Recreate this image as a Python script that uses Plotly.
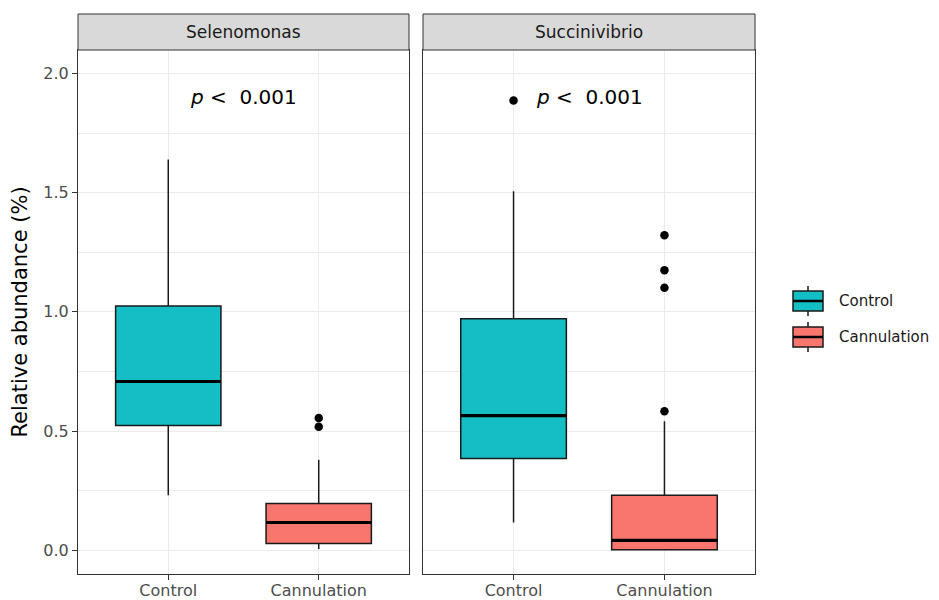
import plotly.graph_objects as go

# ---------------- data ----------------
panels = ["Selenomonas", "Succinivibrio"]
groups = ["Control", "Cannulation"]
group_colors = ["#13BEC4", "#F8766D"]

# box statistics per panel -> per group
lower_fence = [[0.231, 0.006], [0.117, 0.000]]
q1 = [[0.524, 0.029], [0.385, 0.003]]
median = [[0.708, 0.117], [0.565, 0.042]]
q3 = [[1.025, 0.197], [0.971, 0.231]]
upper_fence = [[1.639, 0.380], [1.506, 0.541]]
outliers = [
    [[], [0.518, 0.555]],
    [[1.886], [0.583, 1.101, 1.175, 1.321]],
]
p_text = ["< 0.001", "< 0.001"]
p_pos = [1.5, 1.9]  # (x position between groups, y value)

y_ticks = [0.0, 0.5, 1.0, 1.5, 2.0]
y_tick_labels = ["0.0", "0.5", "1.0", "1.5", "2.0"]
y_minor = [0.25, 0.75, 1.25, 1.75]
y_range = [-0.099, 2.098]
x_range = [0.4, 2.6]

# ---------------- style ----------------
FONT = "DejaVu Sans"
OFF = 8                      # page body margin of the browser
W, H = 939 - OFF, 600 - OFF
ML, MR, MT, MB = 78 - OFF, 184, 50 - OFF, 26
PW = W - ML - MR
PH = H - MT - MB
domains = [[0.0, 331 / PW], [(423 - 78) / PW, 1.0]]
strip_h = 36 / PH
box_w = 0.7
grid_c = "#EBEBEB"
border_c = "#333333"


def px_x(px):
    """screen pixel x -> paper coordinate"""
    return (px - OFF - ML) / PW


def px_y(py):
    """screen pixel y -> paper coordinate"""
    return (OFF + H - MB - py) / PH


fig = go.Figure()

for pi, panel in enumerate(panels):
    xa = "x" if pi == 0 else "x2"
    ya = "y" if pi == 0 else "y2"
    for gi, grp in enumerate(groups):
        xpos = gi + 1
        fig.add_trace(go.Box(
            x=[xpos], q1=[q1[pi][gi]], median=[median[pi][gi]], q3=[q3[pi][gi]],
            lowerfence=[lower_fence[pi][gi]], upperfence=[upper_fence[pi][gi]],
            width=box_w, whiskerwidth=0, boxpoints=False,
            fillcolor=group_colors[gi], line=dict(color="#1A1A1A", width=1.5),
            name=grp, legendgroup=grp, showlegend=False,
            xaxis=xa, yaxis=ya, hoverinfo="skip",
        ))
        # thicker median bar (ggplot style)
        fig.add_trace(go.Scatter(
            x=[xpos - box_w / 2, xpos + box_w / 2],
            y=[median[pi][gi], median[pi][gi]],
            mode="lines", line=dict(color="black", width=3.2),
            showlegend=False, hoverinfo="skip", xaxis=xa, yaxis=ya,
        ))
        if outliers[pi][gi]:
            fig.add_trace(go.Scatter(
                x=[xpos] * len(outliers[pi][gi]), y=outliers[pi][gi],
                mode="markers", marker=dict(color="black", size=8.5),
                showlegend=False, hoverinfo="skip", xaxis=xa, yaxis=ya,
            ))
    fig.add_annotation(
        x=p_pos[0], y=p_pos[1], xref=xa, yref=ya,
        text="<i>p</i> " + p_text[pi].replace("<", "&lt;&nbsp;"),
        showarrow=False, font=dict(family=FONT, size=20, color="black"),
        xanchor="center", yanchor="middle",
    )
    # facet strip
    fig.add_shape(
        type="rect", xref="paper", yref="paper",
        x0=domains[pi][0], x1=domains[pi][1], y0=1.0, y1=1.0 + strip_h,
        fillcolor="#D9D9D9", line=dict(color=border_c, width=1), layer="above",
    )
    fig.add_annotation(
        xref="paper", yref="paper",
        x=(domains[pi][0] + domains[pi][1]) / 2, y=1.0 + strip_h / 2,
        text=panel, showarrow=False, xanchor="center", yanchor="middle",
        font=dict(family=FONT, size=17, color="#1A1A1A"),
    )

# legend (ggplot-style box keys), drawn at the right of the panels
key_x0, key_x1 = 793, 823
key_h = 20
for gi, grp in enumerate(groups):
    cy = 301 + 36 * gi
    xm = (key_x0 + key_x1) / 2
    fig.add_shape(type="line", xref="paper", yref="paper",
                  x0=px_x(xm), x1=px_x(xm), y0=px_y(cy - key_h / 2 - 5), y1=px_y(cy + key_h / 2 + 5),
                  line=dict(color="#1A1A1A", width=1.5))
    fig.add_shape(type="rect", xref="paper", yref="paper",
                  x0=px_x(key_x0), x1=px_x(key_x1), y0=px_y(cy + key_h / 2), y1=px_y(cy - key_h / 2),
                  fillcolor=group_colors[gi], line=dict(color="#1A1A1A", width=1.5))
    fig.add_shape(type="line", xref="paper", yref="paper",
                  x0=px_x(key_x0), x1=px_x(key_x1), y0=px_y(cy), y1=px_y(cy),
                  line=dict(color="black", width=2.5))
    fig.add_annotation(xref="paper", yref="paper", x=px_x(837), y=px_y(cy),
                       text=grp, showarrow=False, xanchor="left", yanchor="middle",
                       font=dict(family=FONT, size=15, color="#1A1A1A"))

xaxis_common = dict(
    range=x_range, tickvals=[1, 2], ticktext=groups, automargin=False,
    showgrid=True, gridcolor=grid_c, gridwidth=1.3, zeroline=False,
    ticks="outside", ticklen=5, tickcolor=border_c, tickwidth=1.2,
    ticklabelstandoff=-3,
    showline=True, mirror=True, linecolor=border_c, linewidth=1,
    tickfont=dict(family=FONT, size=16, color="#4D4D4D"),
)
yaxis_common = dict(
    range=y_range, tickvals=y_ticks, ticktext=y_tick_labels, automargin=False,
    showgrid=True, gridcolor=grid_c, gridwidth=1.3, zeroline=False,
    minor=dict(tickvals=y_minor, showgrid=True, gridcolor=grid_c, gridwidth=0.8, ticks=""),
    showline=True, mirror=True, linecolor=border_c, linewidth=1,
)

fig.update_layout(
    width=W, height=H,
    margin=dict(l=ML, r=MR, t=MT, b=MB, autoexpand=False),
    paper_bgcolor="white", plot_bgcolor="white",
    font=dict(family=FONT, size=16, color="black"),
    xaxis=dict(domain=domains[0], anchor="y", **xaxis_common),
    xaxis2=dict(domain=domains[1], anchor="y2", **xaxis_common),
    yaxis=dict(
        domain=[0, 1], anchor="x",
        ticks="outside", ticklen=5, tickcolor=border_c, tickwidth=1.2,
        tickfont=dict(family=FONT, size=16, color="#4D4D4D"),
        title=dict(text="Relative abundance (%)", standoff=9,
                   font=dict(family=FONT, size=21, color="black")),
        **yaxis_common,
    ),
    yaxis2=dict(domain=[0, 1], anchor="x2", matches="y", showticklabels=False,
                ticks="", **yaxis_common),
    showlegend=False,
    boxmode="overlay",
)

fig.write_html("out.html")
